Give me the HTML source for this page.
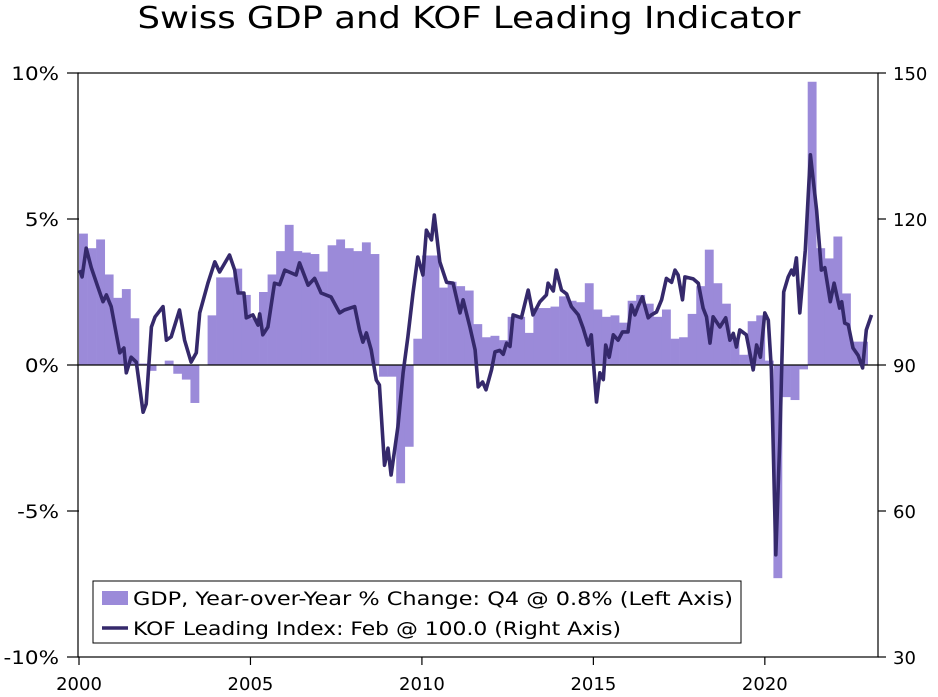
<!DOCTYPE html>
<html><head><meta charset="utf-8"><style>
body{margin:0;background:#fff;}
svg text{font-family:"DejaVu Sans","Liberation Sans",sans-serif;fill:#000;}
</style></head><body>
<svg id="chart" width="938" height="692">
<text x="469" y="28" text-anchor="middle" font-size="30" textLength="663" lengthAdjust="spacingAndGlyphs">Swiss GDP and KOF Leading Indicator</text>
<g id="bars"></g>
<g id="axes"></g>
<path id="kofLine" fill="none" stroke="#35296b" stroke-width="3.6" stroke-linejoin="round"></path>
<g>
<rect x="93" y="581" width="648" height="62" fill="#fff" stroke="#000" stroke-width="1"/>
<rect x="102" y="591" width="26" height="14" fill="#9b8ad9"/>
<text x="133" y="605" font-size="19" textLength="600" lengthAdjust="spacingAndGlyphs">GDP, Year-over-Year % Change: Q4 @ 0.8% (Left Axis)</text>
<line x1="102" y1="628" x2="128" y2="628" stroke="#35296b" stroke-width="3.6"/>
<text x="133" y="635" font-size="19" textLength="488" lengthAdjust="spacingAndGlyphs">KOF Leading Index: Feb @ 100.0 (Right Axis)</text>
</g>
</svg>
<script>
const gdpStartYear = 2000;
const gdpValues = [4.5,4.0,4.3,3.1,2.3,2.6,1.6,0.05,-0.2,0.0,0.15,-0.3,-0.5,-1.3,0.0,1.7,3.0,3.0,3.3,2.4,1.6,2.5,3.1,3.9,4.8,3.9,3.85,3.8,3.2,4.1,4.3,4.0,3.9,4.2,3.8,-0.4,-0.4,-4.05,-2.8,0.9,3.75,3.75,2.65,2.85,2.7,2.55,1.4,0.95,1.0,0.85,1.65,1.65,1.1,1.95,1.95,2.0,2.35,2.2,2.15,2.8,1.9,1.65,1.7,1.45,2.2,2.4,2.1,1.65,1.9,0.9,0.95,1.75,2.7,3.95,2.8,2.1,0.9,0.35,1.5,1.7,0.15,-7.3,-1.1,-1.2,-0.15,9.7,4.0,3.65,4.4,2.45,0.8,0.8];
const kofDates = [2000.02,2000.09,2000.21,2000.36,2000.55,2000.70,2000.80,2000.94,2001.19,2001.31,2001.38,2001.52,2001.67,2001.87,2001.96,2002.11,2002.22,2002.45,2002.55,2002.69,2002.93,2003.08,2003.27,2003.42,2003.52,2003.76,2003.96,2004.10,2004.39,2004.54,2004.64,2004.81,2004.88,2005.07,2005.22,2005.27,2005.36,2005.51,2005.70,2005.85,2006.00,2006.33,2006.43,2006.68,2006.87,2007.06,2007.35,2007.60,2007.74,2008.04,2008.18,2008.28,2008.38,2008.52,2008.67,2008.76,2008.91,2009.01,2009.10,2009.30,2009.45,2009.59,2009.74,2009.88,2010.03,2010.13,2010.28,2010.36,2010.52,2010.72,2010.91,2011.11,2011.20,2011.40,2011.55,2011.64,2011.77,2011.87,2012.03,2012.13,2012.27,2012.37,2012.47,2012.57,2012.66,2012.90,2013.10,2013.24,2013.44,2013.63,2013.68,2013.83,2013.92,2014.07,2014.22,2014.36,2014.56,2014.70,2014.85,2014.94,2015.09,2015.19,2015.29,2015.36,2015.46,2015.58,2015.72,2015.85,2016.01,2016.11,2016.21,2016.30,2016.43,2016.60,2016.69,2016.84,2016.99,2017.13,2017.28,2017.38,2017.47,2017.60,2017.67,2017.91,2018.06,2018.20,2018.30,2018.40,2018.49,2018.69,2018.86,2018.98,2019.08,2019.17,2019.27,2019.46,2019.66,2019.76,2019.87,2020.00,2020.10,2020.19,2020.32,2020.44,2020.55,2020.68,2020.78,2020.84,2020.92,2021.02,2021.18,2021.33,2021.51,2021.65,2021.75,2021.91,2022.02,2022.18,2022.24,2022.33,2022.43,2022.57,2022.72,2022.85,2022.96,2023.11];
const kofValues = [109.5,108.1,114,110,106,103,104.4,102,92.5,93.5,88.4,91.6,90.6,80.3,82,97.8,99.9,102,95.1,95.8,101.3,95.1,90.6,92.5,100.7,106.8,111.2,109.1,112.6,109.5,104.8,104.8,99.7,100.3,98.2,100.5,96.2,97.8,106.8,106.5,109.5,108.5,111,106.4,107.8,104.8,104,100.7,101.3,102,97.2,94.7,96.6,93.1,86.9,85.9,69.4,72.9,67.4,77.3,88.4,95.8,104.8,112.2,108.5,117.7,115.7,120.8,111.2,107,106.8,100.7,103.4,97.8,93.1,85.5,86.5,84.9,89,92.7,93,92.2,94.5,93.8,100.3,99.7,105.4,100.3,103,104.4,106.8,105.2,109.5,105.4,104.6,102,100.3,97.6,94.1,96.2,82.4,88.4,87,94.1,91.6,96.2,95.1,96.8,96.8,102.3,100.3,102,104,99.7,100.3,100.9,103.4,107.8,107,109.5,108.5,103.4,108.1,107.7,106.8,101.7,99.9,94.5,99.9,97.8,99.7,95.1,96.5,93.7,97.2,96.2,89,94.1,91.6,100.7,99.2,89,51,75.2,105,108.1,109.5,108.5,112,100.7,113.6,133.2,121.8,109.5,110,103,106.8,101.7,103,98.6,98.3,93.5,92,89.4,97.2,100.3];
const leftTicks = [10,5,0,-5,-10];
const leftTickLabels = ["10%","5%","0%","-5%","-10%"];
const rightTicks = [150,120,90,60,30];
const xTicks = [2000,2005,2010,2015,2020];

const NS="http://www.w3.org/2000/svg";
const X0=79, X1=878, Y0=73, Y1=657;
const xScale = t => X0 + (t-2000)/(2023.3-2000)*(X1-X0);
const yL = v => Y0 + (10-v)/20*(Y1-Y0);
const yR = v => Y0 + (150-v)/120*(Y1-Y0);
function mk(tag, attrs, parent){const e=document.createElementNS(NS,tag);for(const k in attrs)e.setAttribute(k,attrs[k]);parent.appendChild(e);return e;}

const bars=document.getElementById('bars');
gdpValues.forEach((v,i)=>{
  const t0=gdpStartYear+i/4, t1=t0+0.25;
  const xa=xScale(t0), xb=xScale(t1);
  const r=mk('rect',{x:xa,y:Math.min(yL(v),yL(0)),width:xb-xa+0.3,height:Math.abs(yL(v)-yL(0)),fill:'#9b8ad9'},bars);
  
  
});

const ax=document.getElementById('axes');
let e;
e=mk('rect',{x:X0-1,y:Y0,width:X1-X0+1,height:Y1-Y0,fill:'none',stroke:'#000','stroke-width':1.2},ax);


e=mk('line',{x1:X0,y1:yL(0),x2:X1,y2:yL(0),stroke:'#000','stroke-width':1.2},ax);


leftTicks.forEach((v,i)=>{
  const l=mk('line',{x1:X0-12,x2:X0,y1:yL(v),y2:yL(v),stroke:'#000','stroke-width':1.2},ax);
  
  
  const t=mk('text',{x:59,y:yL(v)+7,'text-anchor':'end','font-size':19},ax);
  t.textContent=leftTickLabels[i];
  
  
  const w=t.getComputedTextLength();
  t.setAttribute('textLength',(w*1.13).toFixed(1));
  t.setAttribute('lengthAdjust','spacingAndGlyphs');
});
rightTicks.forEach(v=>{
  const l=mk('line',{x1:X1,x2:X1+8,y1:yR(v),y2:yR(v),stroke:'#000','stroke-width':1.2},ax);
  
  
  const t=mk('text',{x:893,y:yR(v)+7,'font-size':18},ax);
  t.textContent=String(v);
  
  
});
xTicks.forEach(v=>{
  const l=mk('line',{x1:xScale(v),x2:xScale(v),y1:Y1,y2:Y1+8,stroke:'#000','stroke-width':1.2},ax);
  
  
  const t=mk('text',{x:xScale(v),y:690,'text-anchor':'middle','font-size':18},ax);
  t.textContent=String(v);
  
  
});

let d='';
kofDates.forEach((t,i)=>{d+=(i?'L':'M')+xScale(t).toFixed(1)+','+yR(kofValues[i]).toFixed(1);});
document.getElementById('kofLine').setAttribute('d',d);
</script>
</body></html>
